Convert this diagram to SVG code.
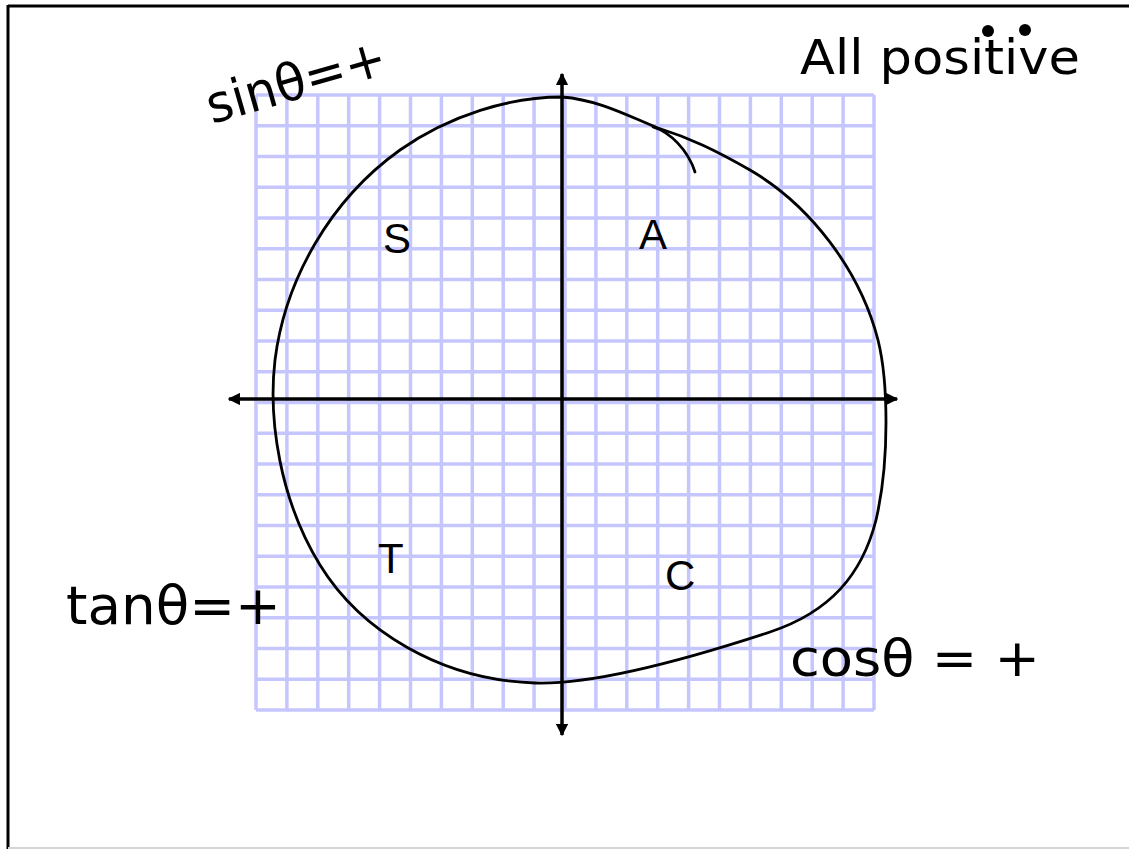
<svg xmlns="http://www.w3.org/2000/svg" width="1129" height="849" viewBox="0 0 1129 849">
<style>
.grid{stroke:#c6c6ff;stroke-width:3.5;fill:none}
.ink{stroke:#000;fill:none;stroke-linecap:round;stroke-linejoin:round}
.lbl{font-family:"Liberation Sans",Arial,sans-serif;font-size:42px;fill:#000}
.hand{font-family:"DejaVu Sans","Liberation Sans",sans-serif;fill:#000}
</style>
<defs>
<marker id="ah" viewBox="0 0 10 10" refX="9" refY="5" markerWidth="3.6" markerHeight="3.6" orient="auto-start-reverse">
<path d="M0,0 L10,5 L0,10 Z" fill="#000"/>
</marker>
</defs>
<rect width="1129" height="849" fill="#fff"/>
<g id="frame">
<line x1="8" y1="6" x2="1129" y2="6" stroke="#000" stroke-width="3"/>
<line x1="8" y1="5" x2="8" y2="849" stroke="#000" stroke-width="3"/>
<line x1="8" y1="848" x2="1129" y2="848" stroke="#d4d4d4" stroke-width="2"/>
</g>
<g id="grid" class="grid">
<path d="M256,95V710M286.9,95V710M317.8,95V710M348.7,95V710M379.6,95V710M410.5,95V710M441.4,95V710M472.3,95V710M503.2,95V710M534.1,95V710M565,95V710M595.9,95V710M626.8,95V710M657.7,95V710M688.6,95V710M719.5,95V710M750.4,95V710M781.3,95V710M812.2,95V710M843.1,95V710M874,95V710"/>
<path d="M256,95H874M256,125.75H874M256,156.5H874M256,187.25H874M256,218H874M256,248.75H874M256,279.5H874M256,310.25H874M256,341H874M256,371.75H874M256,402.5H874M256,433.25H874M256,464H874M256,494.75H874M256,525.5H874M256,556.25H874M256,587H874M256,617.75H874M256,648.5H874M256,679.25H874M256,710H874"/>
</g>
<g id="connectors">
<line x1="562" y1="74" x2="562" y2="735" stroke="#000" stroke-width="3.5" marker-start="url(#ah)" marker-end="url(#ah)"/>
<line x1="229" y1="399" x2="897" y2="399" stroke="#000" stroke-width="3.5" marker-start="url(#ah)" marker-end="url(#ah)"/>
</g>
<g id="circle">
<path class="ink" stroke-width="2.8" d="M562,97 C510,97 450,115 400,150 C330,200 285,280 275,360 C268,420 280,500 320,565 C360,630 440,680 535,683 C600,685 700,655 770,632 C830,612 862,575 876,520 C890,460 888,380 878,340 C860,270 810,205 750,170 C715,150 690,138 658,128 C630,117 600,100 562,97 Z"/>
<path class="ink" stroke-width="2.8" d="M653,127 C670,132 688,150 695,172"/>
</g>
<g id="quadrant-S"><text class="lbl" x="383" y="253">S</text></g>
<g id="quadrant-A"><text class="lbl" x="639" y="249">A</text></g>
<g id="quadrant-T"><text class="lbl" x="378" y="573">T</text></g>
<g id="quadrant-C"><text class="lbl" x="665" y="590">C</text></g>
<g id="note-sin"><text class="hand" font-size="52" transform="translate(212,124) rotate(-16)" textLength="185" lengthAdjust="spacingAndGlyphs">sinθ=+</text></g>
<g id="note-all">
<text class="hand" font-size="48" x="800" y="74" textLength="280" lengthAdjust="spacingAndGlyphs">All positive</text>
<circle cx="988" cy="31" r="6" fill="#000"/>
<circle cx="1025" cy="30" r="6" fill="#000"/>
</g>
<g id="note-tan"><text class="hand" font-size="54" x="66" y="624" textLength="215" lengthAdjust="spacingAndGlyphs">tanθ=+</text></g>
<g id="note-cos"><text class="hand" font-size="52" x="790" y="676" textLength="250" lengthAdjust="spacingAndGlyphs">cosθ = +</text></g>
</svg>
